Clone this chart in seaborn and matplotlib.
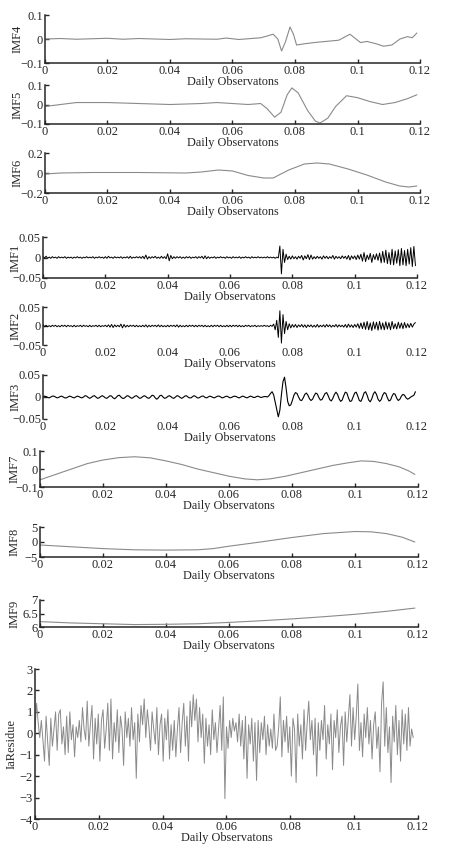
import numpy as np
import matplotlib
matplotlib.use("Agg")
import matplotlib.pyplot as plt
import seaborn as sns

# eixo x comum
x_ticks = [0, 0.02, 0.04, 0.06, 0.08, 0.1, 0.12]
x_tick_labels = ["0", "0.02", "0.04", "0.06", "0.08", "0.1", "0.12"]
x_label = "Daily Observatons"

# IMFs suaves
imf4_x = [0, 0.005, 0.01, 0.015, 0.02, 0.025, 0.03, 0.035, 0.04, 0.045, 0.05, 0.055,
          0.058, 0.062, 0.066, 0.069, 0.071, 0.073, 0.0745, 0.0757, 0.077, 0.0784,
          0.0795, 0.0805, 0.083, 0.086, 0.09, 0.094, 0.0976, 0.1, 0.101, 0.103, 0.106,
          0.1083, 0.111, 0.1136, 0.116, 0.1175, 0.119]
imf4_y = [0, 0.002, -0.001, 0.001, 0.003, -0.001, 0.002, 0.0, -0.002, 0.001, 0.0, -0.001,
          0.004, -0.002, 0.002, 0.005, 0.012, 0.02, 0.0, -0.05, -0.01, 0.05,
          0.02, -0.025, -0.02, -0.015, -0.01, -0.005, 0.02, -0.005, -0.015, -0.01, -0.02,
          -0.03, -0.025, 0.0, 0.01, 0.005, 0.025]

imf5_x = [0, 0.005, 0.01, 0.02, 0.03, 0.04, 0.05, 0.055, 0.06, 0.065, 0.069, 0.071, 0.0735,
          0.0755, 0.0775, 0.079, 0.081, 0.084, 0.0865, 0.088, 0.0905, 0.093, 0.0965, 0.1,
          0.104, 0.108, 0.112, 0.116, 0.119]
imf5_y = [-0.01, 0.0, 0.01, 0.01, 0.005, 0.0, 0.005, 0.01, 0.005, 0.0, 0.005, -0.02, -0.065,
          -0.04, 0.05, 0.085, 0.06, -0.03, -0.085, -0.095, -0.07, -0.01, 0.045, 0.035,
          0.015, 0.0, 0.01, 0.03, 0.05]

imf6_x = [0, 0.005, 0.015, 0.03, 0.045, 0.05, 0.0555, 0.06, 0.065, 0.07, 0.073, 0.078, 0.083,
          0.087, 0.091, 0.097, 0.103, 0.109, 0.1135, 0.1165, 0.119]
imf6_y = [-0.01, 0.0, 0.005, 0.005, 0.0, 0.01, 0.03, 0.02, -0.025, -0.05, -0.05, 0.03, 0.09,
          0.1, 0.09, 0.04, -0.02, -0.09, -0.13, -0.14, -0.13]

imf7_x = [0, 0.005, 0.01, 0.015, 0.02, 0.025, 0.03, 0.035, 0.04, 0.045, 0.05, 0.055, 0.06,
          0.065, 0.069, 0.073, 0.078, 0.083, 0.088, 0.093, 0.098, 0.102, 0.106, 0.11,
          0.114, 0.117, 0.119]
imf7_y = [-0.06, -0.03, 0.0, 0.03, 0.05, 0.063, 0.068, 0.062, 0.045, 0.025, 0.0, -0.02, -0.04,
          -0.055, -0.06, -0.055, -0.04, -0.02, 0.0, 0.02, 0.035, 0.045, 0.042, 0.03,
          0.012, -0.01, -0.03]

imf8_x = [0, 0.01, 0.02, 0.03, 0.04, 0.05, 0.055, 0.06, 0.07, 0.08, 0.09, 0.1, 0.105, 0.11,
          0.115, 0.119]
imf8_y = [-1.0, -1.6, -2.2, -2.6, -2.7, -2.6, -2.2, -1.4, 0.0, 1.5, 2.8, 3.5, 3.4, 2.8, 1.6, 0.0]

imf9_x = [0, 0.01, 0.02, 0.03, 0.04, 0.05, 0.06, 0.07, 0.08, 0.09, 0.1, 0.11, 0.119]
imf9_y = [6.2, 6.15, 6.12, 6.09, 6.1, 6.12, 6.17, 6.23, 6.3, 6.38, 6.47, 6.58, 6.7]

# IMFs de alta frequencia (passo 0.0005)
imf1_y = [
    0.002, -0.001, 0.003, -0.002, 0.001, -0.002, 0.002, -0.001, 0.001, -0.002, 0.002, -0.001, 0.001, -0.001, 0.002, -0.002, 0.001, -0.001, 0.001, -0.002,
    0.001, -0.001, 0.002, -0.001, 0.001, -0.002, 0.001, -0.001, 0.002, -0.001, 0.001, -0.001, 0.002, -0.002, 0.001, -0.001, 0.002, -0.001, 0.001, -0.002,
    0.002, -0.002, 0.003, -0.001, 0.001, -0.002, 0.002, -0.001, 0.001, -0.001, 0.002, -0.002, 0.001, -0.001, 0.002, -0.002, 0.003, -0.002, 0.001, -0.001,
    0.002, -0.001, 0.002, -0.002, 0.003, -0.003, 0.006, -0.004, 0.002, -0.002, 0.002, -0.001, 0.003, -0.002, 0.001, -0.002, 0.003, -0.002, 0.002, -0.003,
    0.009, -0.008, 0.005, -0.003, 0.002, -0.002, 0.002, -0.001, 0.002, -0.002, 0.001, -0.002, 0.002, -0.001, 0.002, -0.002, 0.001, -0.001, 0.002, -0.002,
    0.002, -0.001, 0.003, -0.003, 0.004, -0.003, 0.002, -0.002, 0.001, -0.001, 0.002, -0.002, 0.001, -0.001, 0.002, -0.001, 0.001, -0.002, 0.002, -0.001,
    0.001, -0.002, 0.002, -0.001, 0.001, -0.001, 0.002, -0.002, 0.001, -0.001, 0.002, -0.001, 0.001, -0.002, 0.002, -0.001, 0.001, -0.001, 0.002, -0.001,
    0.001, -0.001, 0.001, -0.001, 0.002, -0.001, 0.001, -0.001, 0.001, -0.002, 0.001, -0.001, 0.028, -0.04, 0.02, -0.012, 0.008, -0.005, 0.003, -0.004,
    0.004, -0.003, 0.002, -0.004, 0.003, -0.002, 0.005, -0.006, 0.004, -0.003, 0.007, -0.005, 0.006, -0.004, 0.002, -0.003, 0.003, -0.002, 0.002, -0.004,
    0.004, -0.002, 0.003, -0.003, 0.002, -0.002, 0.005, -0.004, 0.003, -0.002, 0.002, -0.003, 0.004, -0.002, 0.003, -0.004, 0.005, -0.006, 0.004, -0.003,
    0.004, -0.005, 0.006, -0.004, 0.008, -0.009, 0.012, -0.01, 0.006, -0.005, 0.01, -0.012, 0.007, -0.005, 0.009, -0.007, 0.011, -0.013, 0.015, -0.012,
    0.018, -0.015, 0.012, -0.017, 0.02, -0.018, 0.016, -0.014, 0.019, -0.02, 0.022, -0.018, 0.017, -0.02, 0.02, -0.016, 0.024, -0.022, 0.027, -0.02,
]

imf2_y = [
    0.004, -0.002, 0.002, -0.002, 0.001, -0.002, 0.002, -0.001, 0.002, -0.002, 0.001, -0.002, 0.002, -0.001, 0.002, -0.002, 0.002, -0.001, 0.001, -0.002,
    0.002, -0.002, 0.001, -0.001, 0.002, -0.002, 0.002, -0.001, 0.001, -0.002, 0.002, -0.002, 0.001, -0.001, 0.002, -0.002, 0.002, -0.002, 0.001, -0.001,
    0.002, -0.002, 0.003, -0.003, 0.004, -0.004, 0.003, -0.002, 0.002, -0.002, 0.005, -0.005, 0.004, -0.003, 0.002, -0.002, 0.002, -0.001, 0.002, -0.002,
    0.002, -0.002, 0.001, -0.002, 0.002, -0.002, 0.003, -0.003, 0.002, -0.002, 0.002, -0.001, 0.002, -0.002, 0.003, -0.002, 0.002, -0.002, 0.001, -0.002,
    0.002, -0.002, 0.002, -0.001, 0.002, -0.002, 0.003, -0.003, 0.002, -0.002, 0.001, -0.002, 0.002, -0.002, 0.002, -0.001, 0.002, -0.002, 0.002, -0.002,
    0.002, -0.001, 0.002, -0.002, 0.002, -0.002, 0.001, -0.002, 0.002, -0.002, 0.002, -0.001, 0.002, -0.002, 0.002, -0.002, 0.001, -0.002, 0.002, -0.002,
    0.002, -0.002, 0.002, -0.001, 0.002, -0.002, 0.002, -0.002, 0.001, -0.002, 0.002, -0.001, 0.002, -0.002, 0.001, -0.001, 0.002, -0.002, 0.001, -0.001,
    0.001, -0.001, 0.002, -0.001, 0.001, -0.002, 0.002, -0.001, 0.005, -0.01, 0.015, -0.03, 0.04, -0.045, 0.03, -0.02, 0.012, -0.01, 0.006, -0.005,
    0.004, -0.003, 0.004, -0.004, 0.003, -0.002, 0.004, -0.003, 0.003, -0.004, 0.003, -0.002, 0.003, -0.003, 0.002, -0.003, 0.004, -0.003, 0.002, -0.002,
    0.003, -0.003, 0.004, -0.002, 0.003, -0.003, 0.002, -0.002, 0.004, -0.003, 0.003, -0.002, 0.002, -0.003, 0.004, -0.004, 0.005, -0.003, 0.003, -0.004,
    0.004, -0.003, 0.006, -0.006, 0.008, -0.007, 0.01, -0.009, 0.012, -0.01, 0.008, -0.012, 0.011, -0.008, 0.01, -0.011, 0.012, -0.009, 0.008, -0.01,
    0.011, -0.008, 0.009, -0.01, 0.012, -0.007, 0.006, -0.008, 0.01, -0.006, 0.008, -0.007, 0.009, -0.005, 0.006, -0.004, 0.007, -0.003, 0.005, 0.009,
]

imf3_y = [
    0.0, 0.002, 0.001, -0.001, -0.002, 0.0, 0.002, 0.002, 0.0, -0.002, -0.001, 0.001, 0.002, 0.0, -0.002, -0.002, 0.0, 0.002, 0.001, -0.001,
    -0.002, 0.0, 0.002, 0.001, -0.001, -0.002, 0.0, 0.003, 0.002, -0.001, -0.003, -0.001, 0.002, 0.003, 0.0, -0.003, -0.002, 0.001, 0.003, 0.001,
    -0.002, -0.003, 0.0, 0.003, 0.002, -0.002, -0.004, -0.001, 0.003, 0.004, 0.0, -0.003, -0.003, 0.0, 0.003, 0.002, -0.001, -0.003, -0.001, 0.002,
    0.003, 0.0, -0.003, -0.002, 0.001, 0.003, 0.001, -0.002, -0.003, 0.0, 0.004, 0.003, -0.002, -0.005, -0.002, 0.003, 0.004, 0.0, -0.003, -0.002,
    0.001, 0.003, 0.001, -0.002, -0.003, 0.0, 0.003, 0.002, -0.001, -0.003, -0.001, 0.002, 0.003, 0.0, -0.002, -0.002, 0.001, 0.003, 0.001, -0.002,
    -0.002, 0.0, 0.002, 0.002, -0.001, -0.002, 0.0, 0.002, 0.001, -0.001, -0.002, 0.0, 0.002, 0.002, 0.0, -0.002, -0.001, 0.001, 0.002, 0.0,
    -0.002, -0.001, 0.001, 0.002, 0.001, -0.001, -0.002, 0.0, 0.002, 0.001, -0.001, -0.002, 0.0, 0.002, 0.001, -0.001, -0.001, 0.001, 0.002, 0.0,
    -0.001, 0.0, 0.001, 0.001, 0.0, 0.003, 0.008, 0.012, 0.005, -0.012, -0.03, -0.045, -0.03, 0.005, 0.035, 0.045, 0.02, -0.01, -0.02, -0.018,
    -0.008, 0.004, 0.01, 0.008, 0.0, -0.007, -0.008, -0.002, 0.006, 0.009, 0.004, -0.004, -0.008, -0.005, 0.003, 0.009, 0.007, -0.001, -0.007, -0.006,
    0.001, 0.008, 0.01, 0.003, -0.006, -0.009, -0.003, 0.006, 0.011, 0.006, -0.004, -0.01, -0.007, 0.003, 0.011, 0.009, -0.002, -0.01, -0.009, 0.0,
    0.009, 0.011, 0.002, -0.008, -0.01, -0.002, 0.009, 0.012, 0.004, -0.007, -0.011, -0.004, 0.007, 0.012, 0.006, -0.005, -0.01, -0.006, 0.004, 0.01,
    0.008, -0.002, -0.009, -0.007, 0.002, 0.008, 0.006, -0.003, -0.008, -0.005, 0.002, 0.006, 0.004, -0.002, -0.005, -0.003, 0.0, 0.002, 0.004, 0.012,
]

resid_y = [
    0.2, 1.4, 0.5, -0.2, 0.6, -0.3, -1.3, 0.8, -0.4, -1.5, 0.7, -0.6, 0.2, 1.0, -0.8, 0.9, 1.1, -0.5, 0.3, -1.0,
    0.8, -0.9, 1.0, -0.3, 0.4, -1.1, 0.3, -0.2, 0.6, -0.4, 1.2, 0.2, -0.3, 1.5, -0.6, 0.4, 1.3, -1.2, 0.7, -0.5,
    0.9, -1.3, 0.6, 1.1, -0.7, 0.2, 1.4, -0.8, 1.6, -1.2, 0.5, -0.4, 1.1, -0.9, 0.8, 0.2, -1.5, 1.0, -0.2, 0.7,
    -0.6, 1.2, -0.3, 0.5, -2.1, 0.9, -0.4, 1.3, 0.4, 1.6, -0.2, 1.1, 0.3, -0.8, 1.0, 0.2, -0.5, 1.2, -1.0, 0.4,
    0.9, -1.3, 0.7, -0.3, 1.1, -1.2, 0.4, -0.8, 0.6, -1.1, 0.2, 1.2, -0.9, 0.5, 1.4, -0.6, 0.8, -1.3, 1.5, 0.3,
    1.8, 0.6, 1.6, -0.4, 1.2, -0.2, 0.9, -1.4, 0.7, -0.6, 0.4, -1.0, 1.1, -0.3, 0.5, -0.9, 0.2, 1.3, -0.8, 1.7,
    -3.05, 0.3, -0.7, 0.6, -0.2, 0.7, 0.1, 0.5, -0.4, 0.9, -0.6, 0.6, -1.2, 0.8, -2.1, 0.4, -0.5, 0.7, -1.3, 0.5,
    -2.2, 0.6, -0.9, 0.5, -0.3, 0.8, -1.0, 0.4, -0.6, 0.2, -0.7, 0.9, -0.8, -0.6, 0.3, 1.7, -1.1, 0.6, -0.4, 0.8,
    -0.9, 0.3, -2.0, 0.7, 0.2, -2.3, 0.9, -0.6, 0.4, -1.2, 1.1, -0.8, 0.5, 1.5, -0.3, 0.6, -1.0, 0.7, -2.0, 0.5,
    -0.8, 0.6, -0.3, 1.3, -1.2, 0.4, -0.5, 0.9, -1.7, 0.6, -0.2, 1.1, -0.9, 0.3, 0.8, -1.5, 1.0, -0.4, 0.7, 1.8,
    -0.6, 1.2, -0.3, 0.8, 2.3, -0.8, 0.5, -1.1, 0.9, -0.2, 1.2, -0.5, 0.6, -1.2, 0.4, 1.0, -0.7, 0.3, -1.8, 1.4,
    2.4, -0.6, 1.2, -0.9, 0.3, -2.3, 0.8, -0.4, 1.3, -1.0, 0.6, -1.3, 1.1, -0.5, 0.9, -0.8, 1.2, -0.6, 0.2, -0.2,
]

hf_x = np.linspace(0, 0.1195, len(imf1_y))
resid_x = np.linspace(0, 0.1185, len(resid_y))

sns.set_style("ticks")
plt.rcParams["font.family"] = ["Liberation Serif", "DejaVu Serif"]
plt.rcParams["font.size"] = 9

fig = plt.figure(figsize=(4.52, 8.49), dpi=100)
W, H = 452, 849


def fmt(v):
    return f"{v:g}".replace("-", "\u2212")


def painel(box, x, y, ylabel, yticks, cor, lw=0.8, eixo_x=True, ylab_px=22):
    l, r, t, b = box
    ax = fig.add_axes([l / W, 1 - b / H, (r - l) / W, (b - t) / H])
    sns.lineplot(x=x, y=y, ax=ax, color=cor, linewidth=lw)
    ax.set_xlim(0, 0.12)
    ax.set_ylim(yticks[0], yticks[-1])
    ax.set_xticks(x_ticks)
    ax.set_xticklabels(x_tick_labels)
    ax.set_yticks(yticks)
    ax.set_yticklabels([fmt(v) for v in yticks])
    ax.set_xlabel(x_label, labelpad=-1, fontsize=8.8)
    ax.set_ylabel(ylabel, fontsize=9)
    ax.yaxis.set_label_coords((ylab_px - l) / (r - l), 0.5)
    sns.despine(ax=ax)
    ax.tick_params(direction="in", length=3, width=1, pad=1.5, labelsize=9)
    for s in ["left", "bottom"]:
        ax.spines[s].set_linewidth(1.1)
    if not eixo_x:
        ax.spines["bottom"].set_visible(False)
        ax.tick_params(axis="x", length=0)
    ax.patch.set_alpha(0)
    return ax


cinza = "#8a8a8a"
painel((45, 420, 15, 63), imf4_x, imf4_y, "IMF4", [-0.1, 0, 0.1], cinza, ylab_px=24)
painel((45, 420, 85, 124), imf5_x, imf5_y, "IMF5", [-0.1, 0, 0.1], cinza, ylab_px=24)
painel((45, 420, 153, 193), imf6_x, imf6_y, "IMF6", [-0.2, 0, 0.2], cinza, ylab_px=24)
painel((43, 417, 237, 278), hf_x, imf1_y, "IMF1", [-0.05, 0, 0.05], "black", lw=0.7)
painel((43, 417, 307, 345), hf_x, imf2_y, "IMF2", [-0.05, 0, 0.05], "black", lw=0.7, eixo_x=False)
painel((43, 417, 375, 419), hf_x, imf3_y, "IMF3", [-0.05, 0, 0.05], "black", lw=0.8, eixo_x=False)
painel((40, 418, 451, 487), imf7_x, imf7_y, "IMF7", [-0.1, 0, 0.1], cinza, ylab_px=21)
painel((40, 418, 527, 557), imf8_x, imf8_y, "IMF8", [-5, 0, 5], cinza, ylab_px=21)
painel((40, 418, 600, 627), imf9_x, imf9_y, "IMF9", [6, 6.5, 7], cinza, ylab_px=21)
painel((35, 418, 669, 819), resid_x, resid_y, "IaResidue", [-4, -3, -2, -1, 0, 1, 2, 3], cinza,
       lw=0.7, ylab_px=18)

fig.savefig("out.png", dpi=100)
